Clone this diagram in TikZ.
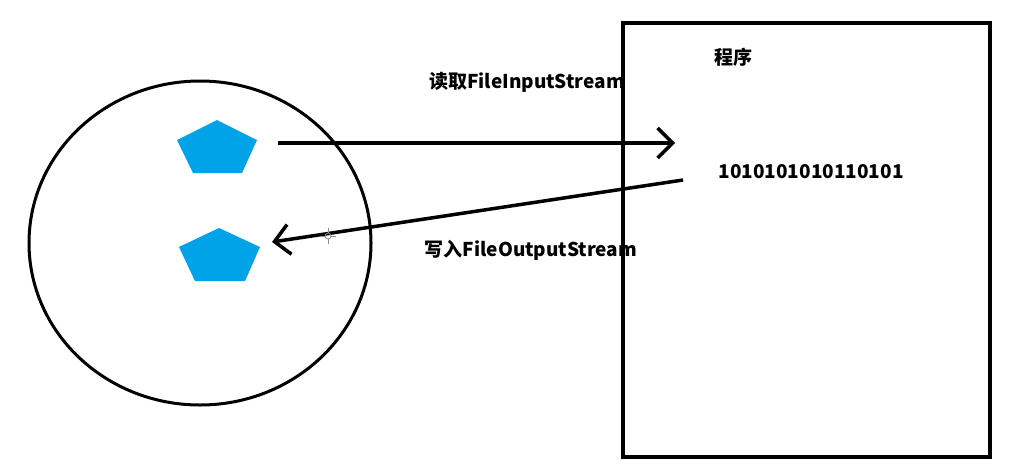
\documentclass[tikz,border=0pt]{standalone}
\usepackage{fontspec}
\newfontfamily\cjk{Noto Sans CJK SC}
\usepackage{tikz}
\usetikzlibrary{arrows.meta, shapes.geometric, positioning}
\definecolor{paintblue}{HTML}{00A2E8}
\tikzset{font=\cjk\bfseries\fontsize{19}{22}\selectfont}
\tikzset{flow/.style={line width=3.5pt, -{Straight Barb[length=15pt, width=30pt, line width=3.5pt]}}}
\tikzset{piece/.style={fill=paintblue, draw=none}}
\tikzset{label/.style={inner sep=0pt}}

\begin{document}
\begin{tikzpicture}[x=1pt, y=-1pt]
  \useasboundingbox (0,0) rectangle (1018,475);
  \node[ellipse, draw, line width=3pt, minimum width=342pt, minimum height=324pt,
    inner sep=0pt] (disk) at (200,243) {};
  \node[rectangle, draw, line width=3.5pt, minimum width=367pt, minimum height=434pt,
    inner sep=0pt] (prog) at (806.5,240) {};
  \path[piece] (217,120) -- (257,140) -- (242,173) -- (193,173) -- (177,140) -- cycle;
  \path[piece] (219,228) -- (260,247) -- (245,281) -- (195,281) -- (179,247) -- cycle;
  \coordinate (src) at (278,143);
  \coordinate (dst) at (675,143);
  \coordinate (back) at (683,180);
  \coordinate (file) at (272,242);
  \node[label] (title) at (733,57) {程序};
  \node[label] (bits) at (811,172) {1010101010110101};
  \node[label] (read) at (527,82) {读取FileInputStream};
  \node[label] (write) at (531,250) {写入FileOutputStream};
  \draw[flow] (src) -- (dst);
  \draw[flow] (back) -- (file);
  \begin{scope}[shift={(328,236)}, draw=black!45, line width=0.8pt]
    \draw (-8,0) -- (-3,0) (3,0) -- (8,0) (0,-8) -- (0,-3) (0,3) -- (0,8);
    \draw (0,0) circle (3);
  \end{scope}
\end{tikzpicture}
\end{document}
